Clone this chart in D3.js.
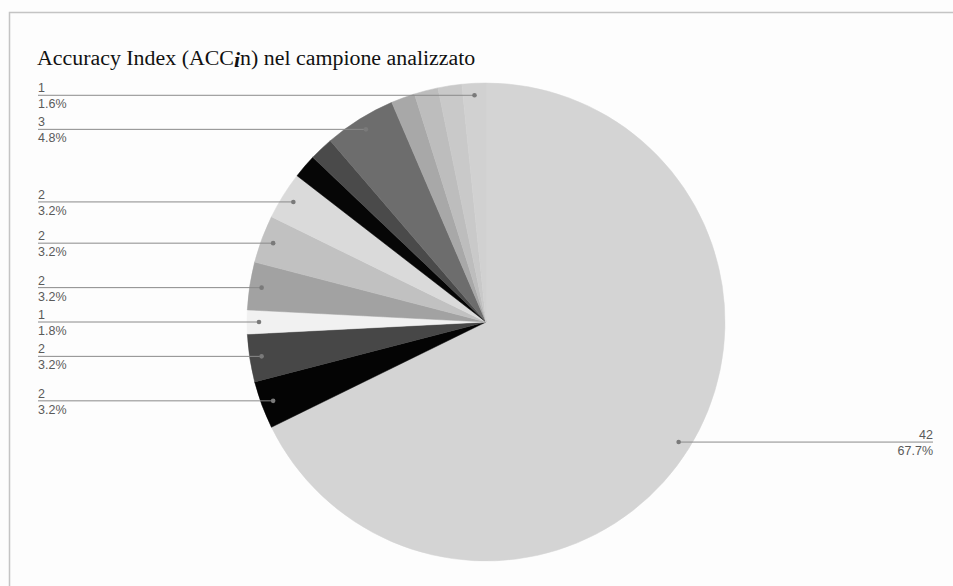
<!DOCTYPE html>
<html>
<head>
<meta charset="utf-8">
<script src="https://cdn.jsdelivr.net/npm/d3@7"></script>
<style>
  body { margin: 0; background: #fdfdfd; }
  svg { display: block; }
</style>
</head>
<body>
<svg></svg>
<script>
// slices, clockwise from 12 o'clock
const counts = [42, 2, 2, 1, 2, 2, 2, 1, 1, 3, 1, 1, 1, 1];
const countLabels = ["42", "2", "2", "1", "2", "2", "2", null, null, "3", null, null, null, "1"];
const pctLabels = ["67.7%", "3.2%", "3.2%", "1.8%", "3.2%", "3.2%", "3.2%", null, null, "4.8%", null, null, null, "1.6%"];
const sliceColors = ["#d4d4d4", "#040404", "#474747", "#f1f1f1", "#a2a2a2", "#c1c1c1", "#dadada",
                     "#060606", "#4a4a4a", "#6d6d6d", "#a8a8a8", "#bdbdbd", "#c9c9c9", "#d1d1d1"];

const width = 953;
const height = 586;
const cx = 486, cy = 322, radius = 239, dotR = 227;
const leftX = 38, rightX = 933;

const svg = d3.select("svg")
    .attr("width", width)
    .attr("height", height);

// frame
svg.append("path")
    .attr("d", `M9.5,${height} L9.5,12.5 L${width},12.5`)
    .attr("fill", "none")
    .attr("stroke", "#c4c4c4")
    .attr("stroke-width", 1.5);

// title
const title = svg.append("text")
    .attr("x", 37)
    .attr("y", 65)
    .attr("font-family", "'Liberation Serif', 'Times New Roman', serif")
    .attr("font-size", "21.9px")
    .attr("fill", "#111");
title.append("tspan").text("Accuracy Index (ACC");
title.append("tspan").attr("font-style", "italic").attr("font-weight", "bold").attr("dy", 2).text("i");
title.append("tspan").attr("dy", -2).text("n) nel campione analizzato");

const pie = d3.pie().sort(null).value(d => d);
const arcs = pie(counts);
const arc = d3.arc().innerRadius(0).outerRadius(radius);

const g = svg.append("g").attr("transform", `translate(${cx},${cy})`);

g.selectAll("path.slice")
    .data(arcs)
    .enter()
    .append("path")
    .attr("class", "slice")
    .attr("d", arc)
    .attr("fill", (d, i) => sliceColors[i])
    .attr("stroke", (d, i) => sliceColors[i])
    .attr("stroke-width", 0.5);

// labels with leader lines
const labelled = arcs.map((d, i) => ({ a: d, i })).filter(d => countLabels[d.i] !== null);

labelled.forEach(({ a, i }) => {
    const mid = (a.startAngle + a.endAngle) / 2;
    const px = cx + dotR * Math.sin(mid);
    const py = cy - dotR * Math.cos(mid);
    const onRight = Math.sin(mid) > 0;
    const tx = onRight ? rightX : leftX;

    svg.append("line")
        .attr("x1", tx).attr("y1", py)
        .attr("x2", px).attr("y2", py)
        .attr("stroke", "#8a8a8a")
        .attr("stroke-width", 1);

    svg.append("circle")
        .attr("cx", px).attr("cy", py)
        .attr("r", 2.3)
        .attr("fill", "#7a7a7a");

    const anchor = onRight ? "end" : "start";
    svg.append("text")
        .attr("x", tx).attr("y", py - 3)
        .attr("text-anchor", anchor)
        .attr("font-family", "'Liberation Sans', Arial, sans-serif")
        .attr("font-size", "12.5px")
        .attr("fill", "#5a5a5a")
        .text(countLabels[i]);
    svg.append("text")
        .attr("x", tx).attr("y", py + 13)
        .attr("text-anchor", anchor)
        .attr("font-family", "'Liberation Sans', Arial, sans-serif")
        .attr("font-size", "12.5px")
        .attr("fill", "#5a5a5a")
        .text(pctLabels[i]);
});
</script>
</body>
</html>
